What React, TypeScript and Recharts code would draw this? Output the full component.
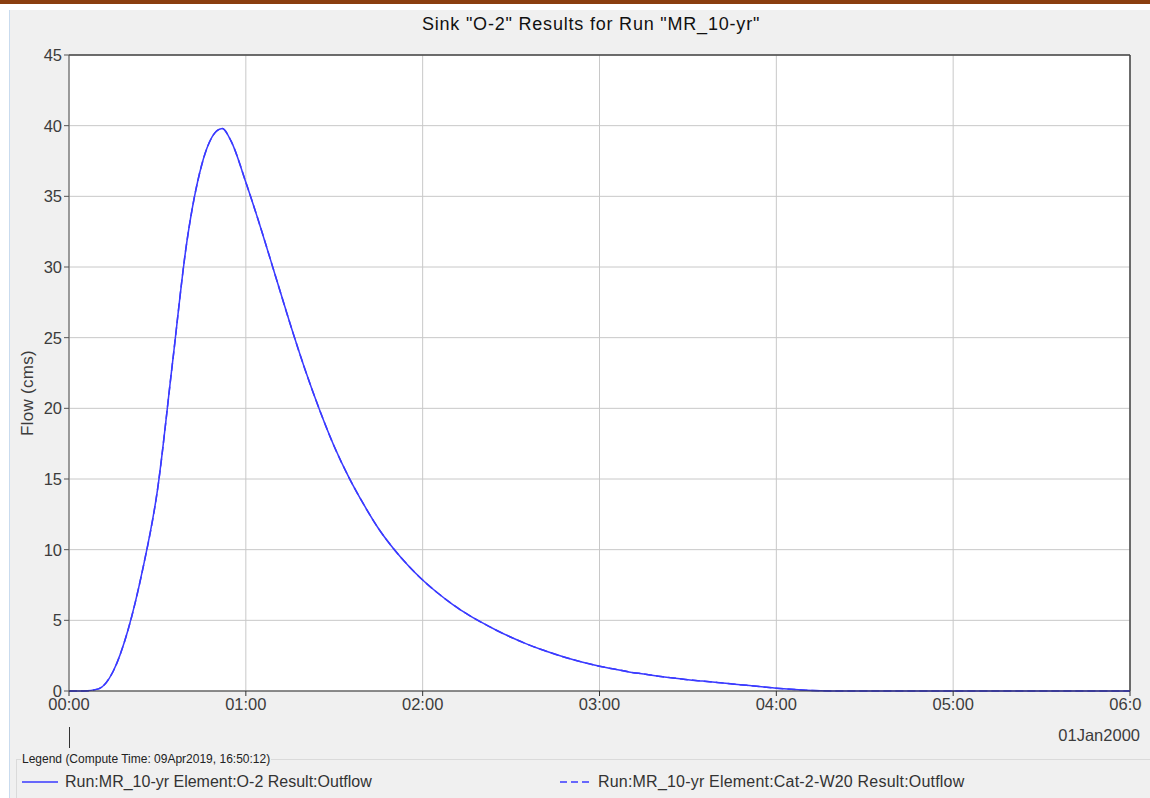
import { LineChart, Line, XAxis, YAxis, CartesianGrid, ReferenceLine } from 'recharts'

// time in minutes from 01Jan2000 00:00
const minutes = [
  0, 5, 10, 15, 20, 25, 30, 35, 40, 45, 50, 52, 55, 60, 65, 70, 75, 80, 85, 90, 95, 100, 105, 110, 115, 120,
  125, 130, 135, 140, 145, 150, 155, 160, 165, 170, 175, 180, 185, 190, 195, 200, 205, 210, 215, 220, 225,
  230, 235, 240, 245, 250, 255, 260, 300, 360,
]
const outflowO2 = [
  0, 0, 0.15, 1.4, 4.3, 8.6, 14.2, 23.0, 31.8, 37.2, 39.6, 39.8, 38.9, 36.0, 32.8, 29.4, 26.0, 22.8, 19.9,
  17.3, 15.1, 13.2, 11.5, 10.1, 8.9, 7.85, 6.95, 6.15, 5.45, 4.85, 4.3, 3.8, 3.35, 2.95, 2.6, 2.28, 2.0, 1.75,
  1.55, 1.35, 1.2, 1.05, 0.92, 0.8, 0.7, 0.6, 0.5, 0.4, 0.3, 0.2, 0.12, 0.06, 0.02, 0, 0, 0,
]
// Cat-2-W20 outflow lies directly under O-2 outflow
const outflowCat2 = outflowO2

const xTicks = [0, 60, 120, 180, 240, 300, 360]
const yTicks = [0, 5, 10, 15, 20, 25, 30, 35, 40, 45]

const data = minutes.map((m, i) => ({ t: m, o2: outflowO2[i], cat2: outflowCat2[i] }))

const fmtTime = (m: number) => `${String(Math.floor(m / 60)).padStart(2, '0')}:${String(m % 60).padStart(2, '0')}`

const font = 'Arial, "Liberation Sans", sans-serif'
const tickStyle = { fontSize: 16.5, fill: '#3c3c3c', fontFamily: font }

export default function App() {
  return (
    <div style={{ position: 'absolute', left: 0, top: 0, width: 1150, height: 798, background: '#fff', fontFamily: font }}>
      <div style={{ position: 'absolute', left: 0, top: 0, width: 1150, height: 4, background: '#8a3e0f' }} />
      <div style={{ position: 'absolute', left: 9, top: 10, width: 1141, height: 788, background: '#f0f0f0', borderLeft: '1px solid #c9dbee' }} />
      <div style={{ position: 'absolute', left: 0, top: 14, width: 1182, textAlign: 'center', fontSize: 18, letterSpacing: 0.8, color: '#111' }}>
        Sink "O-2" Results for Run "MR_10-yr"
      </div>
      <div style={{ position: 'absolute', left: 0, top: 0, width: 1142, height: 798, overflow: 'hidden' }}>
        <LineChart width={1150} height={798} data={data} margin={{ top: 55, right: 20, bottom: 77, left: 0 }}>
          <CartesianGrid stroke="#c8c8c8" fill="#ffffff" horizontalValues={yTicks} verticalValues={xTicks} />
          <XAxis
            dataKey="t"
            type="number"
            domain={[0, 360]}
            ticks={xTicks}
            tickFormatter={fmtTime}
            height={30}
            stroke="#333"
            tick={tickStyle}
            tickSize={5}
            interval={0}
          />
          <YAxis
            type="number"
            domain={[0, 45]}
            ticks={yTicks}
            width={69}
            stroke="#555"
            tick={tickStyle}
            tickSize={5}
            interval={0}
          />
          <ReferenceLine y={45} stroke="#444" strokeWidth={1.5} />
          <ReferenceLine x={360} stroke="#444" strokeWidth={1.5} />
          <Line dataKey="cat2" stroke="#3a3aff" strokeWidth={1.5} strokeDasharray="8 4" dot={false} type="monotone" isAnimationActive={false} />
          <Line dataKey="o2" stroke="#3a3aff" strokeWidth={1.5} dot={false} type="monotone" isAnimationActive={false} />
        </LineChart>
      </div>
      <div style={{ position: 'absolute', left: 28, top: 393, width: 0, height: 0, overflow: 'visible' }}>
        <div style={{ position: 'absolute', left: -60, top: -10, width: 120, textAlign: 'center', transform: 'rotate(-90deg)', fontSize: 17, letterSpacing: 0.3, color: '#3c3c3c', lineHeight: '20px' }}>
          Flow (cms)
        </div>
      </div>
      <div style={{ position: 'absolute', left: 69, top: 727, width: 1, height: 21, background: '#333' }} />
      <div style={{ position: 'absolute', right: 10, top: 726, fontSize: 16.5, color: '#3c3c3c' }}>01Jan2000</div>
      <div style={{ position: 'absolute', left: 16, top: 759, width: 1134, height: 39, borderTop: '1px solid #dadada', borderLeft: '1px solid #dadada' }} />
      <div style={{ position: 'absolute', left: 21, top: 752, padding: '0 1px', background: '#f0f0f0', fontSize: 12, color: '#222' }}>
        Legend (Compute Time: 09Apr2019, 16:50:12)
      </div>
      <div style={{ position: 'absolute', left: 22, top: 773, display: 'flex', alignItems: 'center', fontSize: 16, color: '#333' }}>
        <svg width={36} height={4} style={{ marginRight: 7 }}>
          <line x1={0} y1={2} x2={36} y2={2} stroke="#3a3aff" strokeWidth={1.5} />
        </svg>
        Run:MR_10-yr Element:O-2 Result:Outflow
      </div>
      <div style={{ position: 'absolute', left: 560, top: 773, display: 'flex', alignItems: 'center', fontSize: 16, letterSpacing: 0.2, color: '#333' }}>
        <svg width={32} height={4} style={{ marginRight: 6 }}>
          <line x1={0} y1={2} x2={32} y2={2} stroke="#3a3aff" strokeWidth={1.5} strokeDasharray="7 4" />
        </svg>
        Run:MR_10-yr Element:Cat-2-W20 Result:Outflow
      </div>
    </div>
  )
}
